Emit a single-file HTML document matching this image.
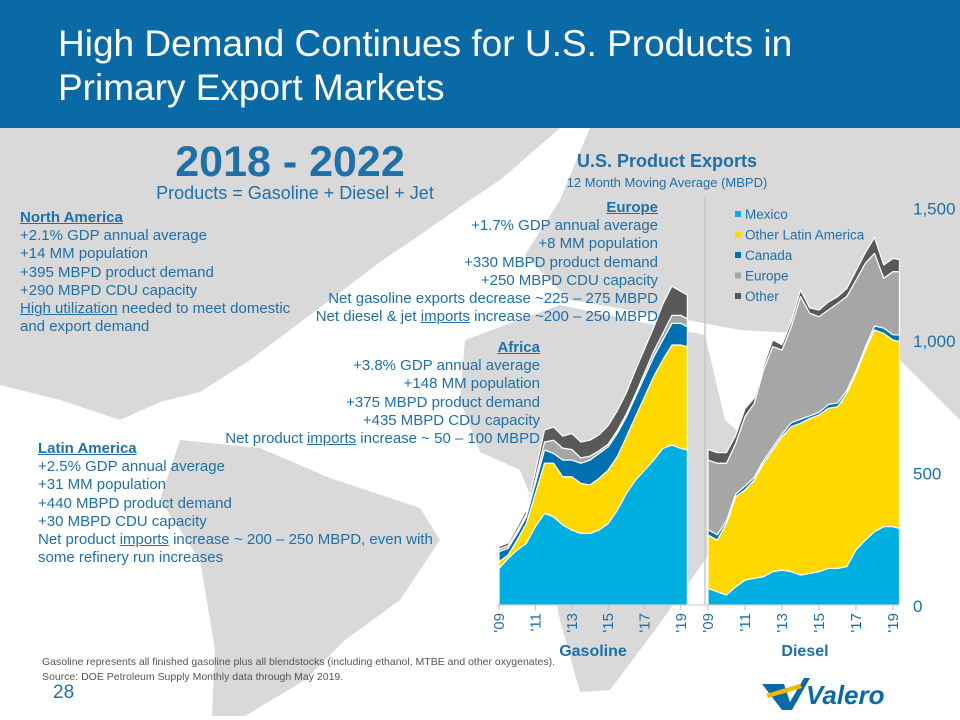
<!DOCTYPE html>
<html><head><meta charset="utf-8">
<style>
body{margin:0;width:960px;height:720px;overflow:hidden;background:#fff;font-family:"Liberation Sans",sans-serif;position:relative}
.t{position:absolute;color:#1f6fa8;white-space:nowrap}
#hdr{position:absolute;left:0;top:0;width:960px;height:128px;background:#0a6aa6}
#hdr div{position:absolute;left:58px;top:22px;color:#fff;font-size:37px;line-height:44px}
.blk{font-size:15px;line-height:18.2px}
u{text-decoration:underline}
</style></head><body>
<svg id="map" width="960" height="720" style="position:absolute;left:0;top:0">
<g fill="#d9d9d9">
<polygon points="0,128 560,128 500,180 470,200 420,235 380,262 330,300 290,330 250,360 200,392 160,402 120,420 60,400 0,385"/>
<polygon points="180,440 260,448 330,478 420,508 440,540 400,600 345,640 305,680 245,716 212,716 215,650 200,560 160,500"/>
<polygon points="590,128 960,128 960,420 900,360 830,335 740,330 660,315 570,300 525,255 560,200"/>
<polygon points="465,340 560,305 640,322 705,335 725,420 765,455 705,560 655,630 610,690 580,692 560,620 540,520 520,470 480,452 460,400"/>
</g>
</svg>
<div id="hdr"><div>High Demand Continues for U.S. Products in<br>Primary Export Markets</div></div>

<div class="t" style="left:140px;width:300px;text-align:center;top:138px;font-size:43px;font-weight:bold">2018 - 2022</div>
<div class="t" style="left:120px;width:350px;text-align:center;top:183px;font-size:18px">Products = Gasoline + Diesel + Jet</div>

<div class="t blk" style="left:20px;top:209px"><b><u>North America</u></b><br>+2.1% GDP annual average<br>+14 MM population<br>+395 MBPD product demand<br>+290 MBPD CDU capacity<br><u>High utilization</u> needed to meet domestic<br>and export demand</div>

<div class="t" style="left:517px;width:300px;text-align:center;top:151px;font-size:18px;font-weight:bold">U.S. Product Exports</div>
<div class="t" style="left:517px;width:300px;text-align:center;top:175px;font-size:13px">12 Month Moving Average (MBPD)</div>

<div class="t blk" style="right:302px;top:199px;text-align:right"><b><u>Europe</u></b><br>+1.7% GDP annual average<br>+8 MM population<br>+330 MBPD product demand<br>+250 MBPD CDU capacity<br>Net gasoline exports decrease ~225 – 275 MBPD<br>Net diesel &amp; jet <u>imports</u> increase ~200 – 250 MBPD</div>

<div class="t blk" style="right:420px;top:339px;text-align:right"><b><u>Africa</u></b><br>+3.8% GDP annual average<br>+148 MM population<br>+375 MBPD product demand<br>+435 MBPD CDU capacity<br>Net product <u>imports</u> increase ~ 50 – 100 MBPD</div>

<div class="t blk" style="left:38px;top:440px"><b><u>Latin America</u></b><br>+2.5% GDP annual average<br>+31 MM population<br>+440 MBPD product demand<br>+30 MBPD CDU capacity<br>Net product <u>imports</u> increase ~ 200 – 250 MBPD, even with<br>some refinery run increases</div>

<svg id="chart" width="960" height="720" style="position:absolute;left:0;top:0"></svg>

<div class="t" style="left:42px;top:655px;font-size:10.5px;color:#555;line-height:15px">Gasoline represents all finished gasoline plus all blendstocks (including ethanol, MTBE and other oxygenates).<br>Source: DOE Petroleum Supply Monthly data through May 2019.</div>
<div class="t" style="left:53px;top:682px;font-size:19px">28</div>
<div style="position:absolute;left:760px;top:672px;width:160px;height:40px">
<svg width="160" height="40"><polygon points="2,12 24,12 30,30 44,6 50,6 32,38 22,38" fill="#0a6aa6"/><polygon points="6,22 40,12 42,16 8,26" fill="#f5b800"/>
<text x="46" y="32" font-family="Liberation Sans, sans-serif" font-size="26" font-weight="bold" fill="#0a6aa6" font-style="italic">Valero</text></svg></div>

<script>
const times=[2009,2009.5,2010,2010.5,2011,2011.5,2012,2012.5,2013,2013.5,2014,2014.5,2015,2015.5,2016,2016.5,2017,2017.5,2018,2018.5,2019,2019.35];
const seriesNames=["Mexico","Other Latin America","Canada","Europe","Other"];
const gasMexico=[138,176,208,233,296,346,333,302,283,270,270,283,308,358,421,472,509,547,591,604,591,585];
const gasLatAm=[25,13,37,75,125,189,202,182,201,189,183,195,201,202,214,239,277,315,334,377,390,390];
const gasCanada=[38,25,25,25,38,50,37,63,63,76,94,94,88,88,76,75,76,75,75,82,82,75];
const gasEurope=[10,10,10,10,15,30,50,45,40,20,15,10,10,10,10,10,15,20,25,30,30,30];
const gasOther=[10,10,15,15,30,45,50,45,60,60,60,60,70,75,80,90,90,90,110,110,90,90];
const dslMexico=[63,50,38,69,94,101,107,126,132,126,113,119,126,138,138,145,208,245,277,296,296,289];
const dslLatAm=[201,195,270,340,340,371,428,459,503,547,573,585,591,604,610,654,666,717,761,729,704,705];
const dslCanada=[20,20,10,10,15,10,10,10,10,15,15,10,10,15,15,10,10,10,15,20,20,25];
const dslEurope=[263,270,217,191,262,279,342,380,317,362,463,387,361,356,375,355,342,317,274,188,238,239];
const dslOther=[40,40,40,30,30,20,15,25,20,20,25,20,25,30,25,30,35,40,60,50,50,45];
const yTicks=[0,500,1000,1500];
const yTickLabels=["0","500","1,000","1,500"];
const xTickYears=[2009,2011,2013,2015,2017,2019];
const xTickLabels=["'09","'11","'13","'15","'17","'19"];
const colors=["#00aee0","#ffd800","#0070b0","#a6a6a6","#595959"];

const NS="http://www.w3.org/2000/svg";
const svg=document.getElementById('chart');
const yS=v=>605-v*0.265;
const xG=t=>499+(t-2009)*18.2;
const xD=t=>708+(t-2009)*18.5;
function mk(tag,attrs){const e=document.createElementNS(NS,tag);for(const k in attrs)e.setAttribute(k,attrs[k]);svg.appendChild(e);return e;}

const ax1=mk('line',{x1:705,y1:195,x2:705,y2:605,stroke:'#c8c8c8','stroke-width':1.5});



function drawStack(series,xf,prefix){
  const base=times.map(()=>0);
  series.forEach((s,i)=>{
    const top=base.map((b,j)=>b+s[j]);
    let d='M'+xf(times[0])+','+yS(base[0]);
    times.forEach((t,j)=>{d+=' L'+xf(t)+','+yS(top[j]);});
    for(let j=times.length-1;j>=0;j--)d+=' L'+xf(times[j])+','+yS(base[j]);
    const p=mk('path',{d:d+'Z',fill:colors[i],stroke:'#fff','stroke-width':1.2,'stroke-linejoin':'round'});
    
    
    top.forEach((v,j)=>base[j]=v);
  });
}
drawStack([gasMexico,gasLatAm,gasCanada,gasEurope,gasOther],xG,'gasoline');
drawStack([dslMexico,dslLatAm,dslCanada,dslEurope,dslOther],xD,'diesel');

const bl=mk('line',{x1:497,y1:605,x2:899,y2:605,stroke:'#c8c8c8','stroke-width':1});



yTicks.forEach((v,i)=>{
  const tx=mk('text',{x:913,y:yS(v)+7,'font-size':17,fill:'#1f6fa8','font-family':'Liberation Sans, sans-serif'});
  tx.textContent=yTickLabels[i];
  
  
});
[[xG,'gasoline'],[xD,'diesel']].forEach(([xf,nm])=>{
  xTickYears.forEach((yr,i)=>{
    const x=xf(yr);
    const tk=mk('line',{x1:x,y1:605,x2:x,y2:610,stroke:'#bbb'});
    
    
    const tx=mk('text',{x:0,y:0,'font-size':15,fill:'#1f6fa8','text-anchor':'end','font-family':'Liberation Sans, sans-serif',transform:'translate('+(x+5)+',613) rotate(-90)'});
    tx.textContent=xTickLabels[i];
    
    
  });
});
[['Gasoline',593],['Diesel',805]].forEach(([s,x])=>{
  const tx=mk('text',{x:x,y:656,'font-size':16,'font-weight':'bold','text-anchor':'middle',fill:'#1f6fa8','font-family':'Liberation Sans, sans-serif'});
  tx.textContent=s;
  
  
});
seriesNames.forEach((n,i)=>{
  const y=216+i*20.5;
  const r=mk('rect',{x:735,y:y-5,width:6,height:6,fill:colors[i]});
  
  
  const tx=mk('text',{x:745,y:y+3,'font-size':13.5,fill:'#1f6fa8','font-family':'Liberation Sans, sans-serif'});
  tx.textContent=n;
  
  
});
</script>
</body></html>
